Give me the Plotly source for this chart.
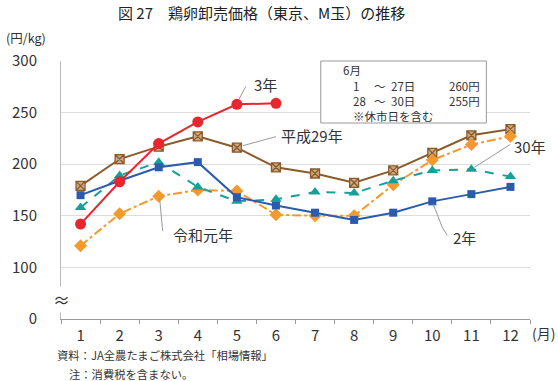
import plotly.graph_objects as go

months = [1, 2, 3, 4, 5, 6, 7, 8, 9, 10, 11, 12]
month_labels = ["1", "2", "3", "4", "5", "6", "7", "8", "9", "10", "11", "12"]

h29 = [179, 205, 217, 227, 216, 197, 191, 182, 194, 211, 228, 234]
r1 = [121, 152, 169, 175, 174, 151, 150, 150, 180, 204, 219, 227]
h30 = [158, 189, 202, 178, 164, 166, 173, 172, 184, 194, 195, 188]
r2 = [170, 184, 197, 202, 168, 160, 153, 146, 153, 164, 171, 178]
r3 = [142, 183, 220, 241, 258, 259]

ytick_vals = [50, 100, 150, 200, 250, 300]
ytick_text = ["0", "100", "150", "200", "250", "300"]

FONT = "Noto Sans CJK JP"
TXT = "#333333"

# plot area in pixels
L, R, T, B = 57, 28, 61, 62
W, H = 558, 381
PW, PH = W - L - R, H - T - B


def px(x):
    return (x - L) / PW


def py(y):
    return (H - B - y) / PH


fig = go.Figure()

fig.add_trace(go.Scatter(
    x=months, y=h29, mode="lines+markers", name="平成29年",
    line=dict(color="#8B5A2B", width=2),
    marker=dict(symbol="square-x", size=9, color="#CDAA80",
                line=dict(color="#8B5A2B", width=1.3))))
fig.add_trace(go.Scatter(
    x=months, y=r1, mode="lines+markers", name="令和元年",
    line=dict(color="#F39A2E", width=2, dash="dashdot"),
    marker=dict(symbol="diamond", size=10, color="#F39A2E")))
fig.add_trace(go.Scatter(
    x=months, y=h30, mode="lines+markers", name="30年",
    line=dict(color="#17A09A", width=2, dash="dash"),
    marker=dict(symbol="triangle-up", size=10, color="#17A09A")))
fig.add_trace(go.Scatter(
    x=months, y=r2, mode="lines+markers", name="2年",
    line=dict(color="#2B5BAE", width=2),
    marker=dict(symbol="square", size=8, color="#2B5BAE")))
fig.add_trace(go.Scatter(
    x=months[:len(r3)], y=r3, mode="lines+markers", name="3年",
    line=dict(color="#E8262D", width=2),
    marker=dict(symbol="circle", size=11, color="#E8262D")))

shapes = []


def leader(xa, ya, pts):
    for (x0, y0), (x1, y1) in zip(pts[:-1], pts[1:]):
        shapes.append(dict(type="line", xref="x", yref="y",
                           xsizemode="pixel", ysizemode="pixel",
                           xanchor=xa, yanchor=ya,
                           x0=x0, y0=y0, x1=x1, y1=y1,
                           line=dict(color="#999999", width=1)))


leader(5, r3[4], [(2, 5), (9, 18)])
leader(5, h29[4], [(6, 2), (39, 11)])
leader(3, r1[2], [(1, -3), (4, -35)])
leader(10, r2[9], [(1, -3), (10, -26), (15, -34)])
leader(11, h30[10], [(3, 2), (39, 25)])

# note box
shapes.append(dict(type="rect", xref="paper", yref="paper",
                   x0=px(319), x1=px(486), y0=py(123), y1=py(61),
                   fillcolor="white", line=dict(color="#999999", width=1)))

anns = []


def label(xa, ya, text, dx, dy):
    anns.append(dict(x=xa, y=ya, xref="x", yref="y", text=text,
                     showarrow=False, xanchor="left", yanchor="middle",
                     xshift=dx, yshift=dy,
                     font=dict(family=FONT, size=15, color=TXT)))


label(5, r3[4], "3年", 15, 20)
label(5, h29[4], "平成29年", 42, 12)
label(3, r1[2], "令和元年", 12, -38)
label(10, r2[9], "2年", 19, -36)
label(11, h30[10], "30年", 41, 23)


def ptext(x, y, text, size, anchor="left", color=TXT, yanchor="middle"):
    anns.append(dict(x=px(x), y=py(y), xref="paper", yref="paper",
                     text=text, showarrow=False, xanchor=anchor,
                     yanchor=yanchor, borderpad=0, align="left",
                     font=dict(family=FONT, size=size, color=color)))


# box contents (columns)
ptext(340, 70, "6月", 11.5)
ptext(350, 77, "1<br>28<br>※休市日を含む", 11.5, yanchor="top")
ptext(372, 77, "～<br>～", 11.5, yanchor="top")
ptext(389, 77, "27日<br>30日", 11.5, yanchor="top")
ptext(447, 77, "260円<br>255円", 11.5, yanchor="top")

# title etc
ptext(259, 13, "図 27　鶏卵卸売価格（東京、M玉）の推移", 15, "center", "#222222")
ptext(1, 37, "(円/kg)", 12.5)
ptext(531, 333, "(月)", 14)
ptext(52, 355, "資料：JA全農たまご株式会社「相場情報」", 11.3)
ptext(64, 374, "注：消費税を含まない。", 11.3)
ptext(57, 299, "≈", 17, "center")
anns[-1]["bgcolor"] = "white"

fig.update_layout(
    width=W, height=H,
    margin=dict(l=L, r=R, t=T, b=B),
    paper_bgcolor="white", plot_bgcolor="white",
    showlegend=False,
    font=dict(family=FONT, size=15, color=TXT),
    shapes=shapes, annotations=anns,
    xaxis=dict(range=[0.5, 12.5], tickvals=months, ticktext=month_labels,
               ticks="", showgrid=False, zeroline=False,
               showline=True, linecolor="#999999", linewidth=1,
               tickfont=dict(family=FONT, size=15, color=TXT),
               ticklabelstandoff=3,
               minor=dict(tickvals=[m - 0.5 for m in months] + [12.5],
                          ticks="outside", ticklen=4, tickcolor="#999999",
                          showgrid=False)),
    yaxis=dict(range=[50, 300], tickvals=ytick_vals, ticktext=ytick_text,
               ticks="", showgrid=True, gridcolor="#dcdcdc", gridwidth=1,
               zeroline=False, showline=True, linecolor="#bbbbbb",
               linewidth=1, ticklabelstandoff=20,
               tickfont=dict(family=FONT, size=15, color=TXT)),
)

fig.write_html("out.html",
               config={"displayModeBar": False},
               post_script="document.body.style.margin='0';"
                           "document.body.style.overflow='hidden';")
